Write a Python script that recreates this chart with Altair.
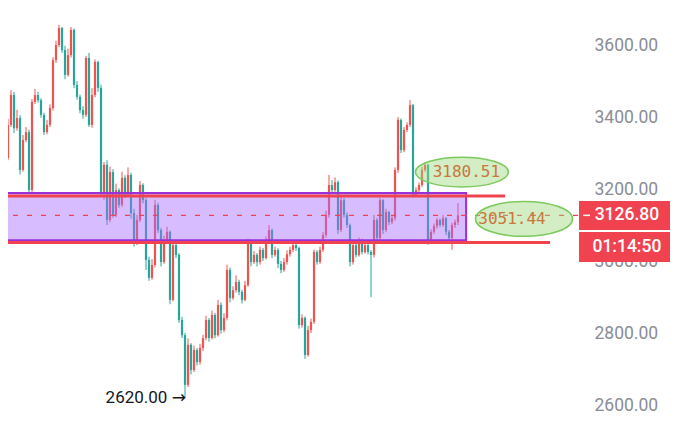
import altair as alt
import pandas as pd

# ---------------- candle data (price units) ----------------
opens = [3189, 3303, 3286, 3378, 3461, 3369, 3397, 3253, 3336, 3358,
         3197, 3442, 3461, 3447, 3406, 3358, 3378, 3425, 3558, 3600,
         3647, 3586, 3517, 3572, 3642, 3489, 3456, 3419, 3406, 3564,
         3378, 3461, 3553, 3481, 3192, 3267, 3114, 3247, 3128, 3197,
         3156, 3231, 3183, 3239, 3133, 3050, 3114, 3211, 3169, 3003,
         2953, 2989, 3156, 3086, 2997, 3058, 3081, 2892, 3044, 3017,
         2836, 2794, 2656, 2767, 2697, 2753, 2719, 2758, 2786, 2836,
         2786, 2850, 2794, 2878, 2808, 2842, 2975, 2897, 2919, 2942,
         2914, 2892, 2933, 3050, 2997, 3017, 2997, 3031, 3008, 3058,
         3086, 3017, 3031, 2992, 2975, 2997, 3019, 3031, 3044, 3036,
         2822, 2842, 2739, 2808, 2831, 3025, 2997, 3031, 3072, 3128,
         3211, 3197, 3219, 3086, 3169, 3128, 3100, 2997, 3044, 3017,
         3058, 3025, 3044, 3025, 3017, 3114, 3064, 3169, 3086, 3136,
         3108, 3119, 3253, 3392, 3308, 3364, 3378, 3433, 3183, 3197,
         3211, 3253, 3267, 3058, 3081, 3097, 3114, 3100, 3119, 3081,
         3064, 3100, 3108]
closes = [3303, 3286, 3378, 3461, 3369, 3397, 3253, 3336, 3358, 3197,
          3442, 3461, 3447, 3406, 3358, 3378, 3425, 3558, 3600, 3647,
          3586, 3517, 3572, 3642, 3489, 3456, 3419, 3406, 3564, 3378,
          3461, 3553, 3481, 3192, 3267, 3114, 3247, 3128, 3197, 3156,
          3231, 3183, 3239, 3133, 3050, 3114, 3211, 3169, 3003, 2953,
          2989, 3156, 3086, 2997, 3058, 3081, 2892, 3044, 3017, 2836,
          2794, 2656, 2767, 2697, 2753, 2719, 2758, 2786, 2836, 2786,
          2850, 2794, 2878, 2808, 2842, 2975, 2897, 2919, 2942, 2914,
          2892, 2933, 3050, 2997, 3017, 2997, 3031, 3008, 3058, 3086,
          3017, 3031, 2992, 2975, 2997, 3019, 3031, 3044, 3036, 2822,
          2842, 2739, 2808, 2831, 3025, 2997, 3031, 3072, 3128, 3211,
          3197, 3219, 3086, 3169, 3128, 3100, 2997, 3044, 3017, 3058,
          3025, 3044, 3025, 3017, 3114, 3064, 3169, 3086, 3136, 3108,
          3119, 3253, 3392, 3308, 3364, 3378, 3433, 3183, 3197, 3211,
          3253, 3267, 3058, 3081, 3097, 3114, 3100, 3119, 3081, 3064,
          3100, 3108, 3126.8]
highs = [3312, 3330, 3395, 3475, 3470, 3420, 3405, 3350, 3372, 3365,
         3450, 3478, 3470, 3452, 3412, 3392, 3435, 3566, 3612, 3656,
         3650, 3598, 3590, 3650, 3646, 3500, 3462, 3430, 3570, 3578,
         3480, 3560, 3556, 3490, 3275, 3280, 3262, 3255, 3215, 3202,
         3248, 3238, 3260, 3245, 3145, 3128, 3222, 3216, 3175, 3012,
         3005, 3170, 3162, 3092, 3070, 3095, 3085, 3058, 3050, 3022,
         2845, 2800, 2785, 2772, 2765, 2758, 2770, 2795, 2848, 2842,
         2862, 2856, 2892, 2885, 2855, 2990, 2982, 2930, 2960, 2948,
         2920, 2945, 3062, 3055, 3028, 3022, 3040, 3036, 3068, 3100,
         3090, 3040, 3036, 3000, 3008, 3030, 3040, 3052, 3048, 3040,
         2852, 2846, 2820, 2840, 3032, 3030, 3040, 3080, 3140, 3239,
         3225, 3232, 3224, 3180, 3175, 3135, 3104, 3052, 3048, 3065,
         3062, 3050, 3048, 3030, 3128, 3120, 3175, 3172, 3145, 3140,
         3125, 3260, 3400, 3396, 3372, 3385, 3447, 3436, 3205, 3218,
         3262, 3275, 3270, 3088, 3104, 3120, 3118, 3128, 3122, 3086,
         3106, 3115, 3161]
lows = [3180, 3270, 3280, 3372, 3355, 3362, 3240, 3248, 3330, 3190,
        3192, 3436, 3440, 3398, 3350, 3352, 3372, 3418, 3550, 3594,
        3578, 3505, 3512, 3565, 3480, 3448, 3410, 3395, 3400, 3372,
        3370, 3455, 3470, 3180, 3170, 3100, 3108, 3120, 3122, 3148,
        3150, 3175, 3178, 3118, 3040, 3044, 3108, 3160, 2975, 2945,
        2948, 2982, 3078, 2985, 2992, 3050, 2880, 2888, 3008, 2828,
        2786, 2620, 2650, 2685, 2692, 2710, 2712, 2750, 2780, 2776,
        2782, 2785, 2790, 2798, 2802, 2835, 2885, 2892, 2912, 2905,
        2882, 2888, 2928, 2985, 2992, 2985, 2990, 3000, 3004, 3050,
        3008, 3012, 2980, 2966, 2970, 2990, 3012, 3025, 3028, 2812,
        2815, 2728, 2734, 2800, 2825, 2990, 2992, 3025, 3065, 3120,
        3190, 3192, 3075, 3080, 3120, 3092, 2985, 2990, 3010, 3012,
        3018, 3020, 3018, 2900, 3010, 3055, 3058, 3075, 3080, 3100,
        3102, 3112, 3245, 3300, 3302, 3358, 3372, 3176, 3178, 3190,
        3205, 3248, 3045, 3050, 3075, 3090, 3094, 3095, 3072, 3055,
        3031, 3092, 3100]

# ---------------- annotation values ----------------
y_ticks = [2600, 2800, 3000, 3200, 3400, 3600]
band_x = [-1, 154.7]
band_y = [3189, 3058]
level_values = [3180.51, 3051.44]
level_ends = [167.7, 182.7]
last_price = 3126.8
last_price_text = "3126.80"
timer_text = "01:14:50"
low_value = 2620
low_text = "2620.00 →"

n = len(closes)
df = pd.DataFrame({"i": list(range(n)), "open": opens, "high": highs,
                   "low": lows, "close": closes})
df["dir"] = ["up" if c >= o else "down" for o, c in zip(opens, closes)]

W, H = 570, 410
xs = alt.Scale(domain=[2, 192], range=[0, W], nice=False, zero=False)
ys = alt.Scale(domain=[2563.9, 3702.8], range=[H, 0], nice=False, zero=False)
col = alt.Color("dir:N", scale=alt.Scale(domain=["up", "down"],
                                         range=["#EF5350", "#26A69A"]), legend=None)

yaxis = alt.Axis(orient="right", values=y_ticks, format=".2f", labelFont="Roboto",
                 labelFontSize=17.5, labelColor="#8A8D95", labelPadding=16,
                 ticks=False, tickSize=0, domain=False, grid=False, title=None,
                 labelAlign="left", labelBaseline="middle")


def X(field):
    return alt.X(field, scale=xs, axis=None)


def Y(field):
    return alt.Y(field, scale=ys, axis=yaxis)


base = alt.Chart(df)
wick = base.mark_rule(strokeWidth=1).encode(
    x=X("i:Q"), y=Y("low:Q"), y2="high:Q", color=col)
body = base.mark_rule(strokeWidth=2.2).encode(
    x=X("i:Q"), y=Y("open:Q"), y2="close:Q", color=col)

band = alt.Chart(pd.DataFrame({"x1": [band_x[0]], "x2": [band_x[1]],
                               "y1": [band_y[0]], "y2": [band_y[1]]})).mark_rect(
    fill="#A66BFF", fillOpacity=0.45, stroke="#9B30D9", strokeWidth=2).encode(
    x=X("x1:Q"), x2="x2:Q", y=Y("y1:Q"), y2="y2:Q")

levels = alt.Chart(pd.DataFrame({"x1": [-1, -1], "x2": level_ends,
                                 "v": level_values})).mark_rule(
    color="#F0434F", strokeWidth=3).encode(
    x=X("x1:Q"), x2="x2:Q", y=Y("v:Q"))

price_line = alt.Chart(pd.DataFrame({"x1": [-1], "x2": [192], "v": [last_price]})).mark_rule(
    color="#EF4350", strokeWidth=1.2, strokeDash=[5, 9]).encode(
    x=X("x1:Q"), x2="x2:Q", y=Y("v:Q"))

ell_df = pd.DataFrame({"x": [153.3, 174.0], "v": [3247, 3117],
                       "tx": [154.8, 170.0],
                       "label": ["3180.51", "3051.44"]})
ell1 = alt.Chart(ell_df.iloc[[0]]).mark_point(
    shape="M -1 0 A 1 0.32 0 1 0 1 0 A 1 0.32 0 1 0 -1 0 Z", filled=True,
    fill="#9ED77F", fillOpacity=0.45, stroke="#7DC95E", strokeWidth=1.5,
    strokeOpacity=1, size=8649).encode(x=X("x:Q"), y=Y("v:Q"))
ell2 = alt.Chart(ell_df.iloc[[1]]).mark_point(
    shape="M -1 0 A 1 0.36 0 1 0 1 0 A 1 0.36 0 1 0 -1 0 Z", filled=True,
    fill="#9ED77F", fillOpacity=0.45, stroke="#7DC95E", strokeWidth=1.5,
    strokeOpacity=1, size=9409).encode(x=X("x:Q"), y=Y("v:Q"))
ell_text = alt.Chart(ell_df).mark_text(
    font="DejaVu Sans Mono", fontSize=16, color="#C8783C", align="center",
    baseline="middle").encode(x=X("tx:Q"), y=Y("v:Q"), text="label:N")

box_df = pd.DataFrame({"x1": [192.33, 192.33], "x2": [224.33, 224.33],
                       "y1": [3166.7, 3080.5], "y2": [3086.0, 2997.2],
                       "tx": [208.3, 208.3], "ty": [last_price, 3039.0],
                       "label": [last_price_text, timer_text]})
boxes = alt.Chart(box_df).mark_rect(color="#F0434F").encode(
    x=X("x1:Q"), x2="x2:Q", y=Y("y1:Q"), y2="y2:Q")
box_text = alt.Chart(box_df).mark_text(
    font="Roboto", fontSize=17.5, fontWeight=500, color="#FFFFFF",
    align="center", baseline="middle").encode(
    x=X("tx:Q"), y=Y("ty:Q"), text="label:N")
tick_mark = alt.Chart(pd.DataFrame({"x1": [193.7], "x2": [196.0], "v": [last_price]})).mark_rule(
    color="#FFFFFF", strokeWidth=1.5).encode(x=X("x1:Q"), x2="x2:Q", y=Y("v:Q"))

low_label = alt.Chart(pd.DataFrame({"x": [61.3], "v": [low_value], "label": [low_text]})).mark_text(
    font="Roboto, DejaVu Sans", fontSize=17, color="#131722", align="right",
    baseline="middle").encode(x=X("x:Q"), y=Y("v:Q"), text="label:N")

chart = alt.layer(
    wick, body, band, levels, price_line, ell1, ell2, ell_text,
    boxes, tick_mark, box_text, low_label
).properties(
    width=W, height=H,
    autosize=alt.AutoSizeParams(type="none"),
    padding={"left": 0, "top": 0, "right": 92, "bottom": 0},
    background="#FFFFFF",
).configure_view(strokeWidth=0)

chart.save("out.html", embed_options={"renderer": "svg", "actions": False})
